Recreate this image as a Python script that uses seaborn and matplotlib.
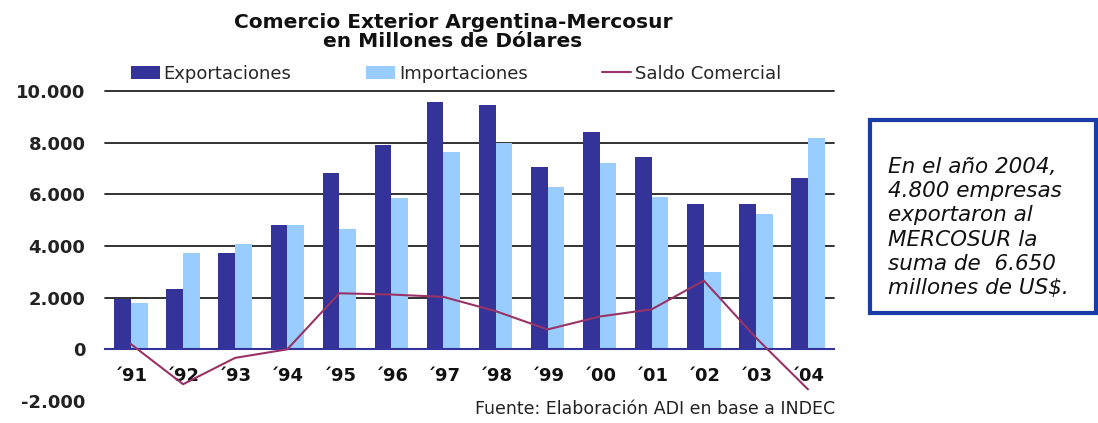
import numpy as np
import pandas as pd
import seaborn as sns
import matplotlib.pyplot as plt
from matplotlib.patches import Patch, Rectangle
from matplotlib.lines import Line2D
from matplotlib.ticker import FuncFormatter

# Datos (millones de US$)
years = ["´91", "´92", "´93", "´94", "´95", "´96", "´97",
         "´98", "´99", "´00", "´01", "´02", "´03", "´04"]
expo = [1950, 2350, 3730, 4830, 6810, 7910, 9580, 9460, 7060, 8430, 7460, 5630, 5630, 6650]
impo = [1780, 3740, 4080, 4830, 4650, 5840, 7630, 7980, 6300, 7230, 5910, 2990, 5230, 8190]
saldo = [200, -1350, -330, 0, 2170, 2120, 2030, 1480, 770, 1270, 1550, 2660, 450, -1550]
series = ["Exportaciones", "Importaciones", "Saldo Comercial"]

c_expo = "#333399"
c_impo = "#99CCFF"
c_saldo = "#993366"

sns.set_style("white")
plt.rcParams['font.family'] = ['DejaVu Sans']

n = len(years)
df = pd.DataFrame({
    "anio": years * 2,
    "valor": expo + impo,
    "serie": [series[0]] * n + [series[1]] * n,
})

fig = plt.figure(figsize=(10.98, 4.23), dpi=100)
ax = fig.add_axes([0.0956, 0.052, 0.664, 0.7329])

sns.barplot(data=df, x="anio", y="valor", hue="serie", hue_order=series[:2],
            palette=[c_expo, c_impo], width=0.64, saturation=1, linewidth=0,
            legend=False, ax=ax, zorder=2)
sns.lineplot(x=np.arange(n), y=saldo, color=c_saldo, linewidth=1.5,
             legend=False, ax=ax, zorder=4)

ax.set_xlim(-0.5, n - 0.5)
ax.set_ylim(-2000, 10000)
ax.set_yticks(range(-2000, 10001, 2000))
ax.yaxis.set_major_formatter(FuncFormatter(lambda v, p: f"{int(v):,}".replace(",", ".")))
ax.set_xlabel("")
ax.set_ylabel("")

# grilla
ax.yaxis.grid(True, color="#222222", linewidth=1.3)
ax.set_axisbelow(True)
for gl in ax.get_ygridlines()[:2]:
    gl.set_visible(False)
for gl in ax.get_ygridlines():
    gl.set_clip_on(False)

for s in ["top", "right", "left"]:
    ax.spines[s].set_visible(False)
ax.spines["bottom"].set_position(("data", 0))
ax.spines["bottom"].set_color(c_expo)
ax.spines["bottom"].set_linewidth(1.5)
ax.spines["bottom"].set_zorder(3)

ax.tick_params(axis="x", length=0, pad=13, labelsize=13, labelcolor="#111111")
ax.tick_params(axis="y", length=0, pad=14, labelsize=13, labelcolor="#222222")
for lab in ax.get_xticklabels() + ax.get_yticklabels():
    lab.set_fontweight("bold")

# leyenda
handles = [Patch(facecolor=c_expo, linewidth=0), Patch(facecolor=c_impo, linewidth=0),
           Line2D([], [], color=c_saldo, linewidth=1.5)]
fig.legend(handles, series, loc="center left", bbox_to_anchor=(0.1193, 0.826),
           ncol=3, frameon=False, fontsize=13, handlelength=1.6, handleheight=0.7,
           handletextpad=0.2, columnspacing=4.15, borderaxespad=0, borderpad=0)

# titulo
fig.text(0.4126, 0.924, "Comercio Exterior Argentina-Mercosur\nen Millones de Dólares",
         ha="center", va="center", fontsize=14.5, fontweight="bold",
         linespacing=1.0, color="#111111")

# fuente
fig.text(0.7605, 0.033, "Fuente: Elaboración ADI en base a INDEC",
         ha="right", va="center", fontsize=12.5, color="#222222")

# recuadro
fig.add_artist(Rectangle((0.7923, 0.26), 0.2058, 0.4563, transform=fig.transFigure,
                         fill=False, edgecolor="#1a3ca8", linewidth=3))
fig.text(0.8087, 0.4622,
         "En el año 2004,\n4.800 empresas\nexportaron al\nMERCOSUR la\nsuma de  6.650\nmillones de US$.",
         ha="left", va="center", fontsize=15.5, fontstyle="italic",
         linespacing=1.27, color="#111111")

fig.savefig("out.png", dpi=100)
